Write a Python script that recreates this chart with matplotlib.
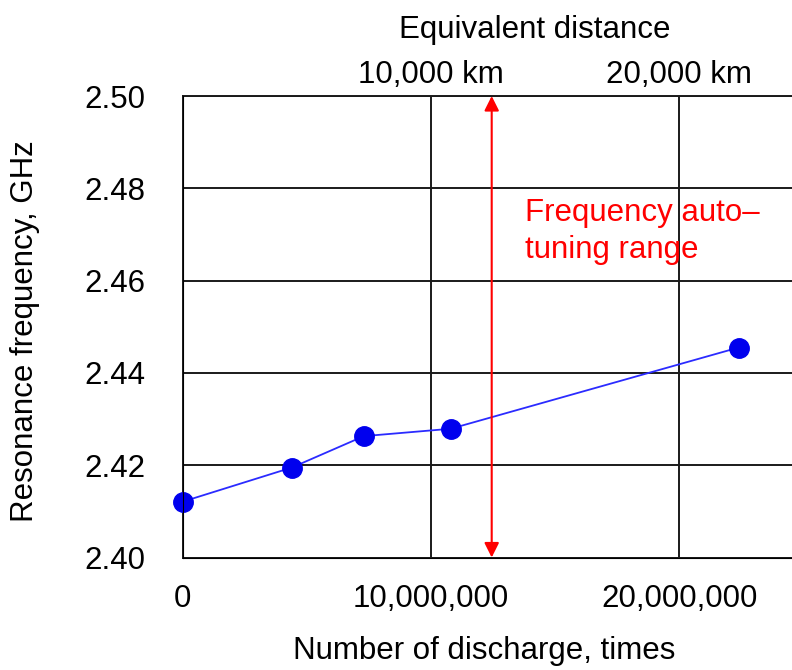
import matplotlib.pyplot as plt
from matplotlib.ticker import FuncFormatter

plt.rcParams['font.family'] = ['Liberation Sans', 'DejaVu Sans']

# datos
descargas = [0, 4.4e6, 7.3e6, 10.8e6, 22.4e6]
frecuencia = [2.4121, 2.4195, 2.4263, 2.4279, 2.4455]
xticks = [0, 10e6, 20e6]
yticks = [2.40, 2.42, 2.44, 2.46, 2.48, 2.50]
top_ticks = [10e6, 20e6]
top_labels = ['10,000 km', '20,000 km']
flecha_x = 12.45e6

fs = 22.5

fig = plt.figure(figsize=(7.92, 6.70), dpi=100)
ax = fig.add_axes([0.2307, 0.1679, 0.7693, 0.6888])

ax.plot(descargas, frecuencia, '-', color='#2b2bff', lw=1.3, zorder=3)
ax.plot(descargas, frecuencia, 'o', color='#0000ee', ms=14, zorder=4, clip_on=False)

# flecha del rango de autoajuste
ax.annotate('', xy=(flecha_x, 2.50), xytext=(flecha_x, 2.40),
            arrowprops=dict(arrowstyle='<|-|>', color='red', lw=1.5,
                            mutation_scale=22, shrinkA=0, shrinkB=0), zorder=5)
ax.text(flecha_x + 1.35e6, 2.4778, 'Frequency auto\u2013\ntuning range',
        color='red', fontsize=22.5, linespacing=1.3, va='top', ha='left')

ax.set_xlim(0, 24.55e6)
ax.set_ylim(2.40, 2.50)
ax.set_xticks(xticks)
ax.set_yticks(yticks)
ax.xaxis.set_major_formatter(FuncFormatter(lambda v, p: f'{int(v):,}'))
ax.yaxis.set_major_formatter(FuncFormatter(lambda v, p: f'{v:.2f}'))
ax.grid(True, color='#1a1a1a', lw=1.4)
ax.set_axisbelow(True)
ax.tick_params(axis='both', length=0, labelsize=fs)
ax.tick_params(axis='y', pad=27)
ax.tick_params(axis='x', pad=19)
for s in ['left', 'bottom', 'top']:
    ax.spines[s].set_color('#1a1a1a')
    ax.spines[s].set_linewidth(1.4)
ax.spines['right'].set_visible(False)

ax.set_xlabel('Number of discharge, times', fontsize=fs)
ax.xaxis.set_label_coords(0.495, -0.17)
ax.set_ylabel('Resonance frequency, GHz', fontsize=fs)
ax.yaxis.set_label_coords(-0.234, 0.49)

# eje superior con la distancia equivalente
ax2 = ax.twiny()
ax2.set_xlim(ax.get_xlim())
ax2.set_xticks(top_ticks)
ax2.set_xticklabels(top_labels)
ax2.tick_params(axis='x', length=0, labelsize=fs, pad=4)
ax2.spines['right'].set_visible(False)
ax2.spines['top'].set_visible(False)
ax2.set_xlabel('Equivalent distance', fontsize=fs)
ax2.xaxis.set_label_coords(0.578, 1.126)

fig.savefig('out.png', dpi=100)
